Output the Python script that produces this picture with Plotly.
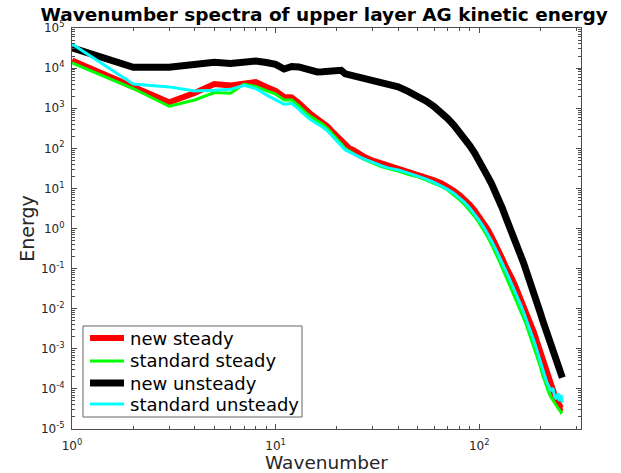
import plotly.graph_objects as go

# Wavenumbers at which the spectra are sampled
k = [1, 2, 3, 4, 5, 6, 7, 8, 9, 10, 11, 12, 13, 14, 15, 16, 17, 18, 19, 20,
     21, 22, 23, 24, 25, 27, 30, 33, 36, 40, 45, 50, 55, 60, 65, 70, 75, 80,
     85, 90, 95, 100, 105, 110, 115, 120, 125, 130, 135, 140, 145, 150, 155,
     160, 165, 170, 175, 180, 185, 190, 195, 200, 205, 210, 215, 220, 225,
     230, 235, 240, 244, 248, 252, 256]

new_steady = [1.55e4, 3.4e3, 1.4e3, 2.4e3, 4.0e3, 3.7e3, 4.2e3, 4.5e3, 3.4e3, 2.7e3,
              1.9e3, 1.86e3, 1.35e3, 9.1e2, 6.9e2, 5.4e2, 4.4e2, 3.5e2, 2.6e2, 2.0e2,
              1.48e2, 1.15e2, 100, 91, 79, 63, 49, 42, 36, 32, 26, 23, 19, 16,
              13.5, 11, 8.7, 6.8, 5.2, 3.9, 2.8, 2.0, 1.38, 0.95, 0.63, 0.42,
              0.275, 0.174, 0.112, 0.083, 0.056, 0.038, 0.026, 0.0178, 0.0117,
              7.9e-3, 5.4e-3, 3.8e-3, 2.7e-3, 1.74e-3, 1.2e-3, 7.9e-4, 5.4e-4,
              3.8e-4, 2.5e-4, 1.7e-4, 1.2e-4, 8.9e-5, 6.9e-5, 5.6e-5, 4.5e-5,
              4.2e-5, 3.3e-5, 3.4e-5]

standard_steady = [1.35e4, 3.1e3, 1.12e3, 1.6e3, 2.45e3, 2.35e3, 4.0e3, 3.5e3, 2.75e3,
                   2.25e3, 1.6e3, 1.6e3, 1.15e3, 7.9e2, 6.0e2, 4.8e2, 4.0e2, 3.1e2,
                   2.3e2, 1.78e2, 1.29e2, 98, 85, 76, 66, 54, 42, 35, 31, 27, 22,
                   19.5, 16.2, 13.5, 11.2, 9.1, 7.0, 5.25, 3.9, 2.8, 2.0, 1.38,
                   0.93, 0.62, 0.4, 0.26, 0.162, 0.102, 0.066, 0.044, 0.029, 0.0195,
                   0.0132, 8.9e-3, 6.0e-3, 4.1e-3, 2.7e-3, 1.78e-3, 1.17e-3, 7.9e-4,
                   5.2e-4, 3.5e-4, 2.2e-4, 1.5e-4, 1.05e-4, 7.9e-5, 6.3e-5, 5.2e-5,
                   4.5e-5, 3.8e-5, 3.3e-5, 3.0e-5, 2.6e-5, 2.8e-5]

new_unsteady = [3.2e4, 1.05e4, 1.05e4, 1.2e4, 1.4e4, 1.3e4, 1.48e4, 1.5e4, 1.38e4,
                1.24e4, 9.5e3, 1.1e4, 1.07e4, 9.6e3, 8.7e3, 8.0e3, 8.1e3, 8.3e3,
                8.5e3, 8.6e3, 8.8e3, 7.2e3, 6.8e3, 6.5e3, 6.2e3, 5.6e3, 4.9e3,
                4.4e3, 3.9e3, 3.4e3, 2.6e3, 2.0e3, 1.5e3, 1.1e3, 7.9e2, 5.5e2,
                3.8e2, 2.6e2, 1.8e2, 1.15e2, 76, 50, 32, 20, 13, 8.5, 5.2, 3.2,
                1.9, 1.25, 0.8, 0.51, 0.33, 0.21, 0.14, 0.093, 0.06, 0.038, 0.025,
                0.017, 0.0112, 7.6e-3, 5.1e-3, 3.5e-3, 2.45e-3, 1.66e-3, 1.17e-3,
                8.3e-4, 6.0e-4, 4.4e-4, 3.5e-4, 2.9e-4, 2.4e-4, 1.9e-4]

standard_unsteady = [4.0e4, 4.0e3, 3.4e3, 2.7e3, 2.8e3, 2.95e3, 3.7e3, 3.1e3, 2.15e3,
                     1.66e3, 1.26e3, 1.32e3, 9.5e2, 6.6e2, 5.0e2, 4.1e2, 3.4e2, 2.7e2,
                     2.0e2, 1.58e2, 1.17e2, 91, 81, 74, 66, 55, 44, 37, 32, 29, 24,
                     20.5, 17, 14.1, 11.7, 9.5, 7.6, 5.8, 4.4, 3.2, 2.3, 1.6, 1.1,
                     0.74, 0.49, 0.32, 0.21, 0.135, 0.089, 0.059, 0.04, 0.027, 0.018,
                     0.0123, 8.3e-3, 5.6e-3, 3.8e-3, 2.5e-3, 1.66e-3, 1.1e-3, 7.4e-4,
                     5.0e-4, 3.4e-4, 2.1e-4, 1.45e-4, 1.08e-4, 8.9e-5, 1.05e-4, 6.3e-5,
                     5.6e-5, 7.9e-5, 5.0e-5, 7.1e-5, 4.6e-5]

series_names = ["new steady", "standard steady", "new unsteady", "standard unsteady"]
series_colors = ["#ff0000", "#00ff00", "#000000", "#00ffff"]
series_widths = [6, 3, 7, 3]

x_tick_exps = [0, 1, 2]
y_tick_exps = [-5, -4, -3, -2, -1, 0, 1, 2, 3, 4, 5]

FONT = "DejaVu Sans"
AXIS_GRAY = "#4d4d4d"
TEXT_GRAY = "#262626"

fig = go.Figure()
for name, vals, col, w in zip(series_names,
                              [new_steady, standard_steady, new_unsteady, standard_unsteady],
                              series_colors, series_widths):
    fig.add_trace(go.Scatter(x=k, y=vals, mode="lines", name=name,
                             line=dict(color=col, width=w), showlegend=False))


def minor_vals(lo, hi):
    return [m * 10 ** d for d in range(lo, hi) for m in range(2, 10)]


common_axis = dict(
    type="log",
    automargin=False,
    showgrid=False,
    zeroline=False,
    showline=True,
    linecolor=AXIS_GRAY,
    linewidth=1,
    mirror="allticks",
    ticks="inside",
    ticklen=5,
    tickcolor=AXIS_GRAY,
    tickfont=dict(family=FONT, size=12, color=TEXT_GRAY),
    tickmode="array",
)

fig.update_xaxes(
    **common_axis,
    range=[0, 2.5],
    tickvals=[10 ** e for e in x_tick_exps],
    ticktext=[f"10<sup>{e}</sup>" for e in x_tick_exps],
    ticklabelstandoff=6,
    minor=dict(tickmode="array", tickvals=minor_vals(0, 3), ticks="inside",
               ticklen=3, tickcolor=AXIS_GRAY, showgrid=False),
    title=dict(text="Wavenumber", font=dict(family=FONT, size=18.5, color=TEXT_GRAY),
               standoff=5),
)
fig.update_yaxes(
    **common_axis,
    range=[-5, 5],
    tickvals=[10 ** e for e in y_tick_exps],
    ticktext=[f"10<sup>{e}</sup>" for e in y_tick_exps],
    ticklabelstandoff=4,
    minor=dict(tickmode="array", tickvals=minor_vals(-5, 5), ticks="inside",
               ticklen=3, tickcolor=AXIS_GRAY, showgrid=False),
    title=dict(text="Energy", font=dict(family=FONT, size=19, color=TEXT_GRAY),
               standoff=1),
)

# Legend box drawn in paper coordinates of the plotting area
LEG_X0, LEG_X1 = 0.0216, 0.4519
LEG_Y0, LEG_Y1 = 0.0299, 0.2569
LINE_X0, LINE_X1 = 0.0354, 0.1022
TEXT_X = 0.111
ROW_Y = [0.2269, 0.1696, 0.1147, 0.0623]

shapes = [dict(type="rect", xref="paper", yref="paper",
               x0=LEG_X0, x1=LEG_X1, y0=LEG_Y0, y1=LEG_Y1,
               line=dict(color="#666666", width=1), fillcolor="white", layer="above")]
annotations = []
for name, col, w, ry in zip(series_names, series_colors, series_widths, ROW_Y):
    shapes.append(dict(type="line", xref="paper", yref="paper",
                       x0=LINE_X0, x1=LINE_X1, y0=ry, y1=ry,
                       line=dict(color=col, width=w), layer="above"))
    annotations.append(dict(text=name, xref="paper", yref="paper", x=TEXT_X, y=ry,
                            xanchor="left", yanchor="middle", showarrow=False,
                            font=dict(family=FONT, size=18, color="black")))

fig.update_layout(
    width=621,
    height=473,
    margin=dict(l=72, r=40, t=28, b=44),
    paper_bgcolor="white",
    plot_bgcolor="white",
    font=dict(family=FONT),
    title=dict(text="<b>Wavenumber spectra of upper layer AG kinetic energy</b>",
               font=dict(family=FONT, size=18.5, color="black"),
               x=0.522, xanchor="center", y=0.97, yanchor="middle"),
    showlegend=False,
    shapes=shapes,
    annotations=annotations,
)

fig.write_html("out.html")
